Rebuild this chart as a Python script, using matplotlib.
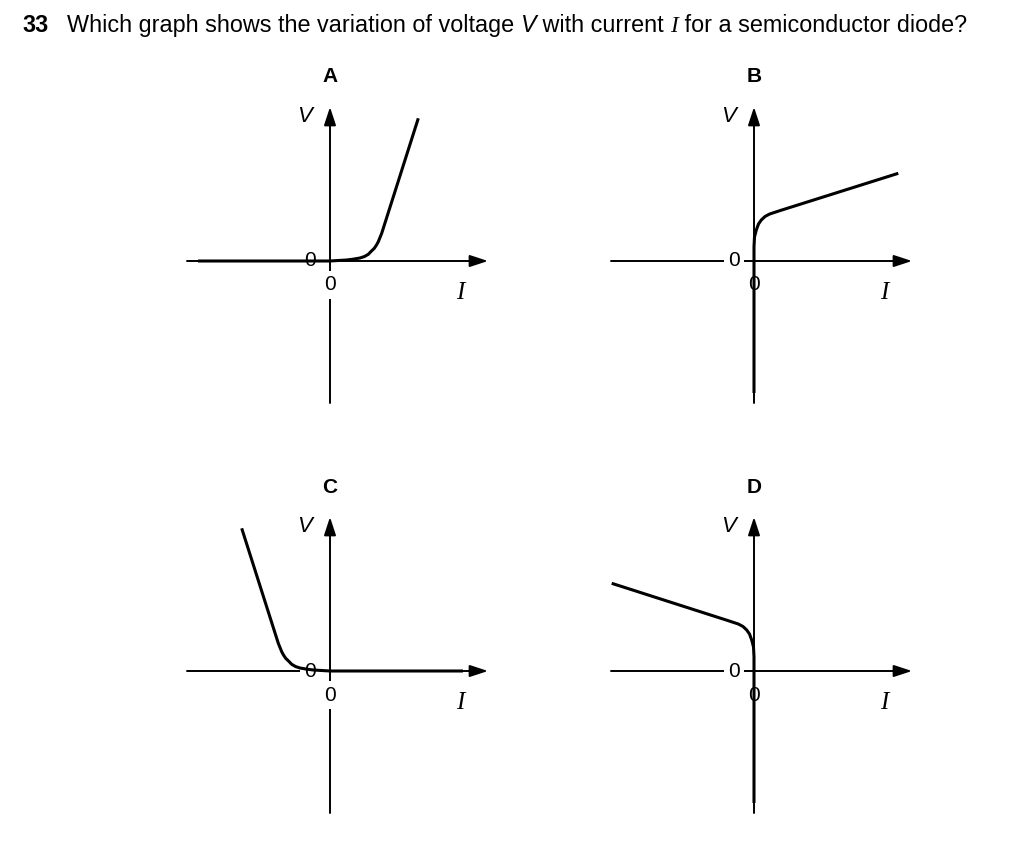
import matplotlib
matplotlib.use('Agg')
import matplotlib.pyplot as plt

W, H = 1024, 863
fig = plt.figure(figsize=(W / 100, H / 100), dpi=100)
fig.patch.set_facecolor('white')

# ---- data (I, V in arbitrary units) ----
panel_names = ['A', 'B', 'C', 'D']

A_I = [-13.2, 0, 1.67, 2.3, 3.0, 3.45, 3.83, 4.1, 4.43, 4.65, 4.83, 5.17, 8.83]
A_V = [0, 0, 0.1, 0.18, 0.3, 0.45, 0.67, 0.95, 1.27, 1.6, 1.93, 2.77, 14.27]

B_I = [0, 0, 0, 0.05, 0.23, 0.45, 0.73, 1.1, 1.57, 2.57, 14.43]
B_V = [-13.2, 0, 1.43, 2.4, 3.1, 3.7, 4.1, 4.45, 4.7, 5.03, 8.77]

C_I = [-8.83, -5.17, -4.83, -4.65, -4.43, -4.1, -3.83, -3.45, -3.0, -2.3, -1.67, 0, 13.3]
C_V = [14.27, 2.77, 1.93, 1.6, 1.27, 0.95, 0.67, 0.45, 0.3, 0.18, 0.1, 0, 0]

D_I = [-14.23, -2.57, -1.57, -1.1, -0.73, -0.45, -0.23, -0.05, 0, 0, 0]
D_V = [8.77, 5.03, 4.7, 4.45, 4.1, 3.7, 3.1, 2.4, 1.43, 0, -13.2]

curves = {'A': (A_I, A_V), 'B': (B_I, B_V), 'C': (C_I, C_V), 'D': (D_I, D_V)}

# ---- layout: origin pixel of each panel (x from left, y from top) ----
origins = {'A': (330, 261), 'B': (754, 261), 'C': (330, 671), 'D': (754, 671)}
XMIN, XMAX, YMIN, YMAX = -16, 17, -16, 20
UNIT = 10  # px per data unit

I_AX = (-14.3, 15.8)
V_AX = (-14.2, 15.4)

sans = 'Liberation Sans'
serif = 'Liberation Serif'

for name in panel_names:
    ox, oy = origins[name]
    left = ox + XMIN * UNIT
    top = oy - YMAX * UNIT
    w = (XMAX - XMIN) * UNIT
    h = (YMAX - YMIN) * UNIT
    ax = fig.add_axes([left / W, (H - top - h) / H, w / W, h / H])
    ax.set_xlim(XMIN, XMAX)
    ax.set_ylim(YMIN, YMAX)
    ax.axis('off')

    arrow = dict(arrowstyle='-|>,head_length=1.1,head_width=0.36', lw=1.4,
                 color='black', shrinkA=0, shrinkB=0, mutation_scale=10)
    ax.annotate('', xy=(I_AX[1], 0), xytext=(I_AX[0], 0), arrowprops=arrow, zorder=1)
    ax.annotate('', xy=(0, V_AX[1]), xytext=(0, V_AX[0]), arrowprops=arrow, zorder=1)

    lab_bbox = dict(boxstyle='square,pad=0.22', fc='white', ec='none')
    ax.text(-2.0, 0, '0', fontsize=15, family=sans, ha='center', va='center',
            bbox=lab_bbox, zorder=2)
    ax.text(0, -2.4, '0', fontsize=15, family=sans, ha='center', va='center',
            bbox=lab_bbox, zorder=2)

    I, V = curves[name]
    ax.plot(I, V, color='black', lw=2.2, solid_capstyle='butt',
            solid_joinstyle='round', zorder=3)

    ax.text(-2.5, 14.4, 'V', fontsize=16, family=sans, style='italic',
            ha='center', va='center')
    ax.text(13.0, -3.2, 'I', fontsize=18, family=serif, style='italic',
            ha='center', va='center')
    ax.text(0, 18.4, name, fontsize=15, family=sans, weight='bold',
            ha='center', va='center')

# ---- question text ----
pieces = [
    ('33', dict(family=sans, weight='bold')),
    ('Which graph shows the variation of voltage ', dict(family=sans)),
    ('V', dict(family=sans, style='italic')),
    (' with current ', dict(family=sans)),
    ('I', dict(family=serif, style='italic')),
    (' for a semiconductor diode?', dict(family=sans)),
]
fig.canvas.draw()
renderer = fig.canvas.get_renderer()
x = 22
ybase = (H - 32) / H
for i, (txt, kw) in enumerate(pieces):
    if i == 1:
        x = 67
    t = fig.text(x / W, ybase, txt, fontsize=16.8, ha='left', va='baseline', **kw)
    bb = t.get_window_extent(renderer)
    x = x + bb.width

fig.savefig('out.png', dpi=100, facecolor='white')
